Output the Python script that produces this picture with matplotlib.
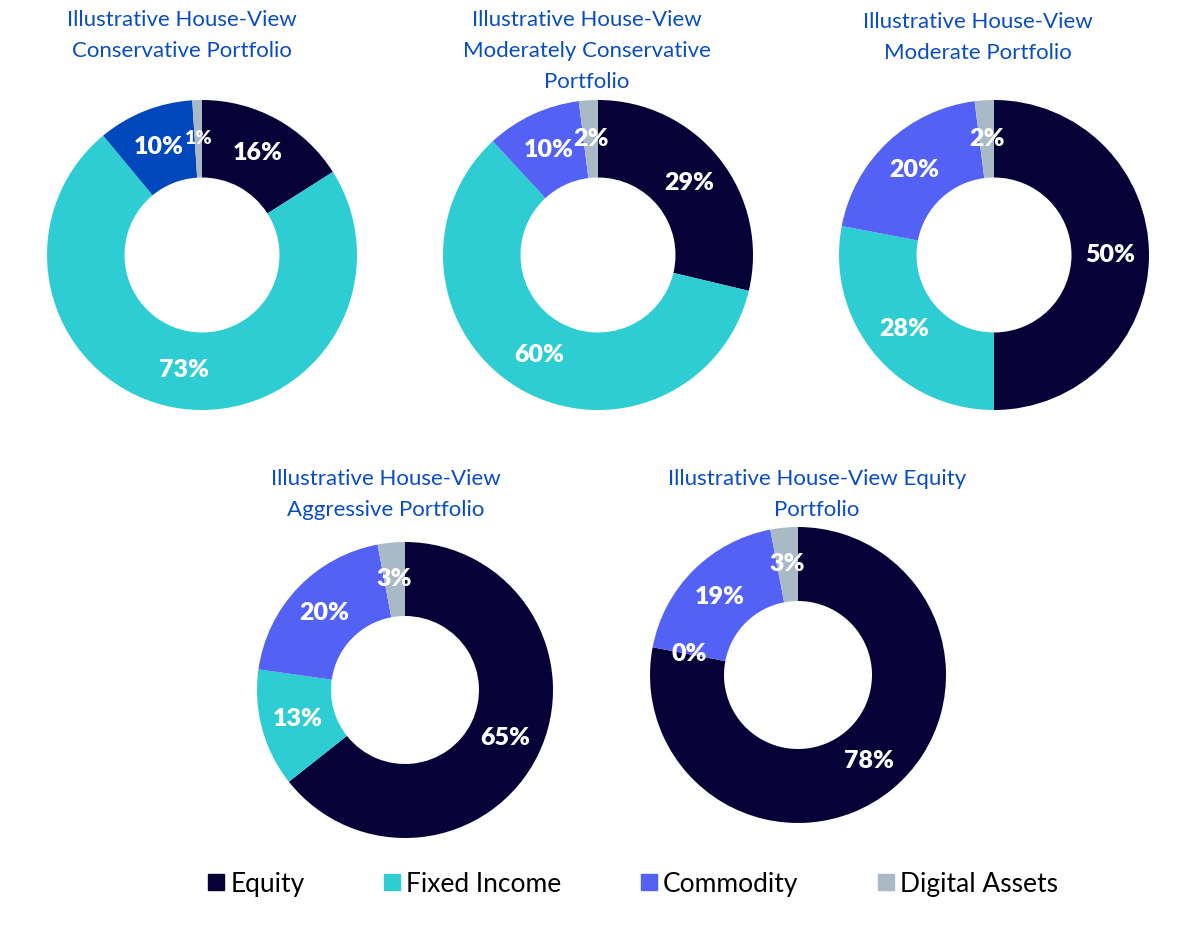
import matplotlib
matplotlib.use("Agg")
import matplotlib.pyplot as plt
from matplotlib.lines import Line2D

plt.rcParams['font.family'] = ['Lato', 'DejaVu Sans']

# --- DATA ---
titles = [
    "Illustrative House-View\nConservative Portfolio",
    "Illustrative House-View\nModerately Conservative\nPortfolio",
    "Illustrative House-View\nModerate Portfolio",
    "Illustrative House-View\nAggressive Portfolio",
    "Illustrative House-View Equity\nPortfolio",
]
asset_classes = ["Equity", "Fixed Income", "Commodity", "Digital Assets"]
equity = [16, 29, 50, 65, 78]
fixed_income = [73, 60, 28, 13, 0]
commodity = [10, 10, 20, 20, 19]
digital_assets = [1, 2, 2, 3, 3]

# --- STYLE ---
EQUITY_C = "#060136"
FIXED_C = "#2ECDD3"
COMMOD_C = "#5461F5"
COMMOD_C_FIRST = "#0047BB"   # first panel uses the darker blue
DIGITAL_C = "#A9B9C6"
TITLE_C = "#0A4DC0"

W, H = 1200, 930
# pie centre (px), radius (px), title centre x, title top y
layout = [
    (202, 255, 155, 182, 10),
    (598, 255, 155, 587, 10),
    (994, 255, 155, 978, 12),
    (405, 690, 148, 386, 469),
    (798, 675, 148, 817, 469),
]

fig = plt.figure(figsize=(W / 100, H / 100), dpi=100)

for i, (cx, cy, r, tx, ty) in enumerate(layout):
    ax = fig.add_axes([(cx - r) / W, (H - cy - r) / H, 2 * r / W, 2 * r / H])
    vals = [equity[i], fixed_income[i], commodity[i], digital_assets[i]]
    total = sum(vals)
    colors = [EQUITY_C, FIXED_C, COMMOD_C_FIRST if i == 0 else COMMOD_C, DIGITAL_C]
    wedges, _, autotexts = ax.pie(
        vals, colors=colors, startangle=90, counterclock=False, radius=1,
        wedgeprops=dict(width=0.5, linewidth=0),
        autopct=lambda p, t=total: f"{p * t / 100:.0f}%", pctdistance=0.75,
        textprops=dict(color="white", fontsize=18, fontweight="heavy"))
    for v, at in zip(vals, autotexts):
        if v == 1:
            at.set_fontsize(14)
    ax.set_xlim(-1, 1)
    ax.set_ylim(-1, 1)
    ax.axis("off")

    fig.text(tx / W, 1 - ty / H, titles[i], ha="center", va="top",
             fontsize=16, color=TITLE_C, linespacing=1.7)

# --- LEGEND ---
handles = [Line2D([0], [0], marker='s', linestyle='None', markersize=12,
                  markerfacecolor=c, markeredgecolor=c, label=l)
           for c, l in zip([EQUITY_C, FIXED_C, COMMOD_C, DIGITAL_C], asset_classes)]
fig.legend(handles=handles, loc="center", bbox_to_anchor=(0.527, 1 - 884 / H),
           ncol=4, frameon=False, fontsize=19, handlelength=0.7,
           handletextpad=0.2, columnspacing=2.95)

fig.savefig("out.png", dpi=100)
